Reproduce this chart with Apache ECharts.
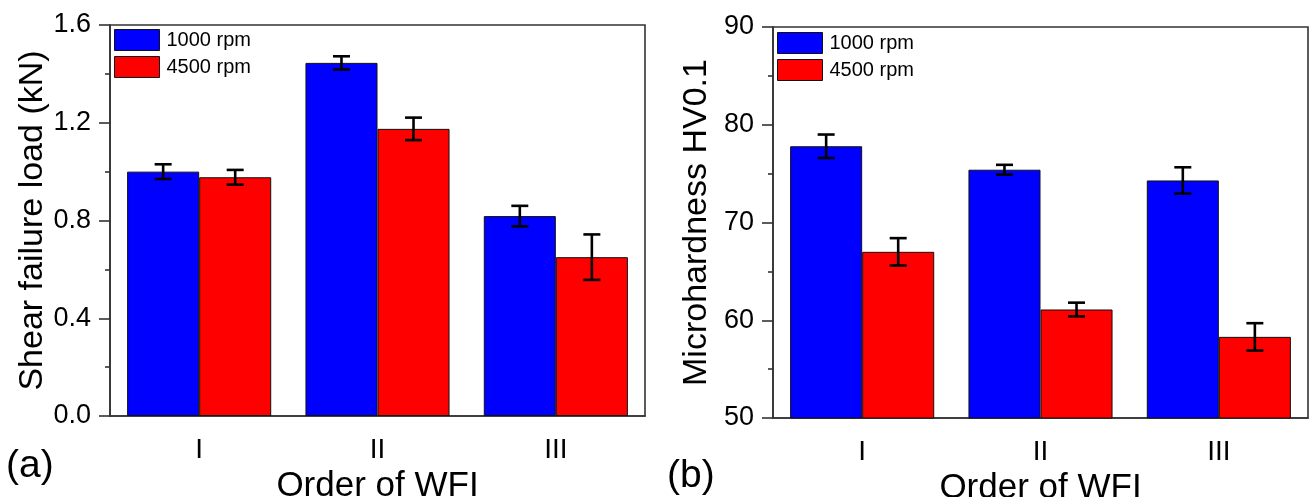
<!DOCTYPE html>
<html>
<head>
<meta charset="utf-8">
<script src="https://cdn.jsdelivr.net/npm/echarts@6/dist/echarts.min.js"></script>
<style>
  html, body { margin: 0; padding: 0; background: #fff; }
  #main { width: 1310px; height: 497px; }
</style>
</head>
<body>
<div id="main"></div>
<script>
// data
var categories = ['I', 'II', 'III'];
var seriesNames = ['1000 rpm', '4500 rpm'];

var shear1000 = [1.0, 1.445, 0.818];
var shear1000Err = [0.03, 0.027, 0.042];
var shear4500 = [0.977, 1.175, 0.65];
var shear4500Err = [0.03, 0.046, 0.093];

var hard1000 = [77.8, 75.4, 74.3];
var hard1000Err = [1.2, 0.5, 1.35];
var hard4500 = [67.0, 61.1, 58.3];
var hard4500Err = [1.4, 0.7, 1.4];

var BLUE = '#0000ff', RED = '#ff0000';
var GAP = 0.192;
var FONT = '"Liberation Sans", Arial, sans-serif';

function errData(vals, errs) {
    return vals.map(function (v, i) { return [i, v, errs[i]]; });
}

// draws the error bar of one bar in a grouped pair (side -1 = left bar, +1 = right bar)
function errBar(side) {
    return function (params, api) {
        var x = api.value(0), v = api.value(1), e = api.value(2);
        var c = api.coord([x, v]);
        var bw = api.size([1, 0])[0] * (1 - GAP) / 2;
        var cx = c[0] + side * bw / 2;
        var hi = api.coord([x, v + e])[1];
        var lo = api.coord([x, v - e])[1];
        var cap = 8.5;
        var st = { stroke: '#000', lineWidth: 2.6 };
        return {
            type: 'group',
            children: [
                { type: 'line', shape: { x1: cx, y1: hi, x2: cx, y2: lo }, style: st },
                { type: 'line', shape: { x1: cx - cap, y1: hi, x2: cx + cap, y2: hi }, style: st },
                { type: 'line', shape: { x1: cx - cap, y1: lo, x2: cx + cap, y2: lo }, style: st }
            ]
        };
    };
}

var axisLine = { show: true, lineStyle: { color: '#333', width: 1.6 } };

function xAxes(gi) {
    return [
        {
            type: 'category', gridIndex: gi, data: categories,
            name: 'Order of WFI', nameLocation: 'middle', nameGap: 41,
            nameTextStyle: { fontSize: 35, color: '#000', fontFamily: FONT },
            axisLine: axisLine,
            axisTick: { alignWithLabel: true, length: 10, lineStyle: { color: '#333', width: 1.6 } },
            axisLabel: { fontSize: 28, color: '#000', margin: 20, fontFamily: FONT }
        },
        {
            // short ticks at category boundaries
            type: 'category', gridIndex: gi, data: categories, position: 'bottom',
            axisLine: { show: false },
            axisTick: { length: 5, lineStyle: { color: '#333', width: 1.6 } },
            axisLabel: { show: false }
        }
    ];
}

function yAxis(gi, name, min, max, step, fmt, gap) {
    return {
        type: 'value', gridIndex: gi, min: min, max: max, interval: step,
        name: name, nameLocation: 'middle', nameGap: gap,
        nameTextStyle: { fontSize: 34, color: '#000', fontFamily: FONT },
        axisLine: axisLine,
        axisTick: { show: true, length: 11, lineStyle: { color: '#333', width: 1.6 } },
        minorTick: { show: true, splitNumber: 2, length: 5, lineStyle: { color: '#333', width: 1.6 } },
        splitLine: { show: false },
        axisLabel: { fontSize: 27, color: '#000', margin: 19, fontFamily: FONT, formatter: fmt }
    };
}

function bars(name, data, color, gi) {
    return {
        name: name, type: 'bar', xAxisIndex: gi * 2, yAxisIndex: gi, data: data,
        barGap: '0%', barCategoryGap: (GAP * 100) + '%',
        itemStyle: { color: color, borderColor: '#111', borderWidth: 1 }
    };
}

function errSeries(vals, errs, side, gi) {
    return {
        type: 'custom', xAxisIndex: gi * 2, yAxisIndex: gi, z: 5,
        data: errData(vals, errs), renderItem: errBar(side),
        encode: { x: 0, y: 1 }, silent: true
    };
}

function legend(left, top) {
    return {
        data: seriesNames, orient: 'vertical', left: left, top: top,
        itemWidth: 45, itemHeight: 21, itemGap: 5,
        icon: 'rect',
        itemStyle: { borderColor: '#111', borderWidth: 1 },
        textStyle: { fontSize: 20, color: '#000', fontFamily: FONT, padding: [0, 0, 0, 2] }
    };
}

var chart = echarts.init(document.getElementById('main'));
chart.setOption({
    backgroundColor: '#fff',
    animation: false,
    textStyle: { fontFamily: FONT },
    grid: [
        { left: 110, top: 25, width: 535, height: 391, containLabel: false, outerBoundsMode: 'none',
          show: true, borderColor: '#333', borderWidth: 1.6, backgroundColor: 'transparent' },
        { left: 773, top: 27, width: 535, height: 391, containLabel: false, outerBoundsMode: 'none',
          show: true, borderColor: '#333', borderWidth: 1.6, backgroundColor: 'transparent' }
    ],
    legend: [legend(109, 24), legend(772, 27)],
    xAxis: xAxes(0).concat(xAxes(1)),
    yAxis: [
        yAxis(0, 'Shear failure load (kN)', 0, 1.6, 0.4, function (v) { return v.toFixed(1); }, 60),
        yAxis(1, 'Microhardness HV0.1', 50, 90, 10, function (v) { return v; }, 59)
    ],
    graphic: [
        { type: 'text', left: 6, top: 447, style: { text: '(a)', fontSize: 39, fill: '#000', fontFamily: FONT } },
        { type: 'text', left: 667, top: 457, style: { text: '(b)', fontSize: 39, fill: '#000', fontFamily: FONT } }
    ],
    series: [
        bars(seriesNames[0], shear1000, BLUE, 0),
        bars(seriesNames[1], shear4500, RED, 0),
        errSeries(shear1000, shear1000Err, -1, 0),
        errSeries(shear4500, shear4500Err, 1, 0),
        bars(seriesNames[0], hard1000, BLUE, 1),
        bars(seriesNames[1], hard4500, RED, 1),
        errSeries(hard1000, hard1000Err, -1, 1),
        errSeries(hard4500, hard4500Err, 1, 1)
    ]
});
</script>
</body>
</html>
